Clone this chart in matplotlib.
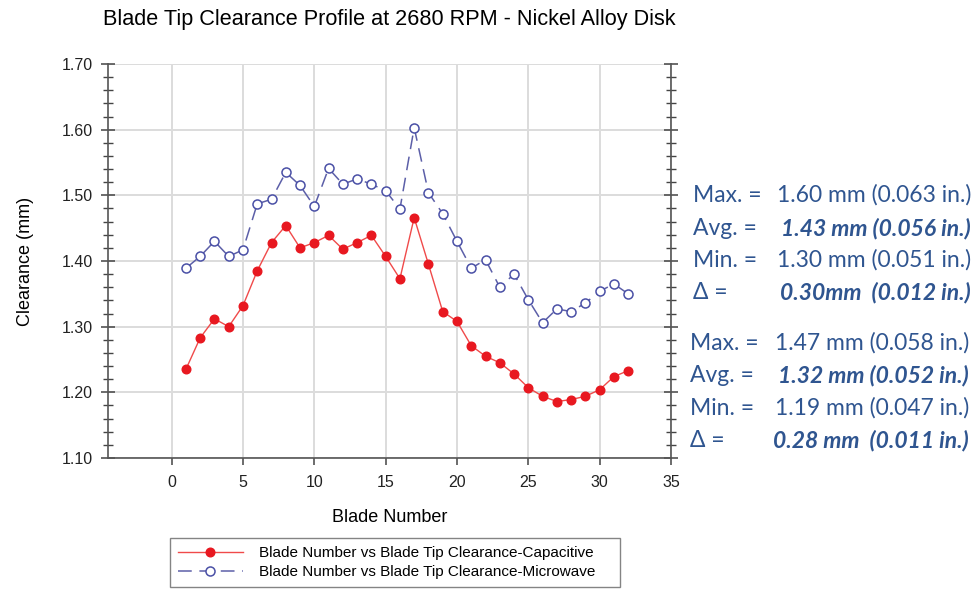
import matplotlib
matplotlib.use("Agg")
import matplotlib.pyplot as plt
from matplotlib.ticker import MultipleLocator

blades = list(range(1, 33))
capacitive = [1.235, 1.283, 1.312, 1.300, 1.332, 1.385, 1.428, 1.454, 1.420, 1.428,
              1.439, 1.418, 1.428, 1.439, 1.407, 1.373, 1.466, 1.395, 1.323, 1.308,
              1.271, 1.255, 1.245, 1.228, 1.207, 1.194, 1.186, 1.189, 1.194, 1.204,
              1.224, 1.233]
microwave = [1.389, 1.407, 1.430, 1.407, 1.417, 1.487, 1.494, 1.535, 1.515, 1.483,
             1.541, 1.517, 1.525, 1.517, 1.507, 1.479, 1.603, 1.504, 1.472, 1.430,
             1.389, 1.402, 1.360, 1.380, 1.341, 1.306, 1.327, 1.323, 1.336, 1.354,
             1.365, 1.350]

title = "Blade Tip Clearance Profile at 2680 RPM - Nickel Alloy Disk"
xlabel = "Blade Number"
ylabel = "Clearance (mm)"
label_cap = "Blade Number vs Blade Tip Clearance-Capacitive"
label_mw = "Blade Number vs Blade Tip Clearance-Microwave"
xticks = [0, 5, 10, 15, 20, 25, 30, 35]
yticks = [1.10, 1.20, 1.30, 1.40, 1.50, 1.60, 1.70]

stats_mw = [("Max. =", "1.60 mm (0.063 in.)", False),
            ("Avg. =", "1.43 mm (0.056 in.)", True),
            ("Min. =", "1.30 mm (0.051 in.)", False),
            ("\u0394 =", "0.30mm  (0.012 in.)", True)]
stats_cap = [("Max. =", "1.47 mm (0.058 in.)", False),
             ("Avg. =", "1.32 mm (0.052 in.)", True),
             ("Min. =", "1.19 mm (0.047 in.)", False),
             ("\u0394 =", "0.28 mm  (0.011 in.)", True)]

plt.rcParams['font.family'] = ['Liberation Sans', 'DejaVu Sans']

W, H = 977, 594
fig = plt.figure(figsize=(W / 100, H / 100), dpi=100)

def fx(px):
    return px / W

def fy(py):
    return 1 - py / H

ax = fig.add_axes([fx(108), fy(458), fx(671) - fx(108), fy(64) - fy(458)])

red_line = "#f04a4a"
red_mk = "#e81820"
blue_line = "#5c5fa8"
blue_mk = "#4a50a6"

ax.plot(blades, capacitive, color=red_line, lw=1.0, marker='o', ms=6.2,
        mfc=red_mk, mec=red_mk, label=label_cap, zorder=3)
ax.plot(blades, microwave, color=blue_line, lw=1.1, ls=(0, (9, 5)), marker='o', ms=6.5,
        mfc='white', mec=blue_mk, mew=1.1, label=label_mw, zorder=3)

ax.set_xlim(-4.46, 35)
ax.set_ylim(1.10, 1.70)
ax.yaxis.set_minor_locator(MultipleLocator(0.02))
ax.set_xticks(xticks)
ax.set_yticks(yticks)
ax.set_yticklabels([f"{v:.2f}" for v in yticks])

ax.grid(True, which='major', color='#dcdcdc', lw=1.4, zorder=0)
ax.set_axisbelow(True)

for s in ['left', 'right', 'bottom']:
    ax.spines[s].set_color('#555555')
    ax.spines[s].set_linewidth(1.2)
ax.spines['top'].set_visible(False)

ax.tick_params(axis='y', which='major', direction='inout', length=10, width=1.1,
               color='#444444', left=True, right=True, labelsize=11.5, pad=6,
               labelcolor='#222222')
ax.tick_params(axis='y', which='minor', direction='inout', length=7, width=1.0,
               color='#444444', left=True, right=True)
ax.tick_params(axis='x', which='major', direction='out', length=5, width=1.1,
               color='#444444', labelsize=11.5, pad=7, labelcolor='#222222')

ax.set_title(title, fontsize=15.6, pad=28)
ax.set_xlabel(xlabel, fontsize=13, labelpad=14)
ax.set_ylabel(ylabel, fontsize=13, labelpad=20)

leg = fig.legend(loc='upper left',
                 bbox_to_anchor=(fx(170), fy(592), fx(620) - fx(170), fy(538) - fy(592)),
                 mode='expand', fontsize=11, handlelength=4.2, handletextpad=1.1,
                 borderaxespad=0, frameon=True, fancybox=False, labelspacing=0.3,
                 borderpad=0.55)
leg.get_frame().set_edgecolor('#666666')
leg.get_frame().set_linewidth(1.0)

txt_col = "#2f5590"
fam = ['Lato', 'DejaVu Sans']
fs = 16.5
ys1 = [202, 235, 267, 299]
ys2 = [350, 382, 415, 447]
for (lab, val, bold), y in zip(stats_mw, ys1):
    fig.text(fx(693), fy(y), lab, fontsize=fs, color=txt_col, family=fam,
             ha='left', va='baseline')
    fig.text(fx(971), fy(y), val, fontsize=fs, color=txt_col, family=fam,
             ha='right', va='baseline', weight='bold' if bold else 'normal',
             style='italic' if bold else 'normal')
for (lab, val, bold), y in zip(stats_cap, ys2):
    fig.text(fx(690), fy(y), lab, fontsize=fs, color=txt_col, family=fam,
             ha='left', va='baseline')
    fig.text(fx(969), fy(y), val, fontsize=fs, color=txt_col, family=fam,
             ha='right', va='baseline', weight='bold' if bold else 'normal',
             style='italic' if bold else 'normal')

fig.savefig("out.png", dpi=100)
